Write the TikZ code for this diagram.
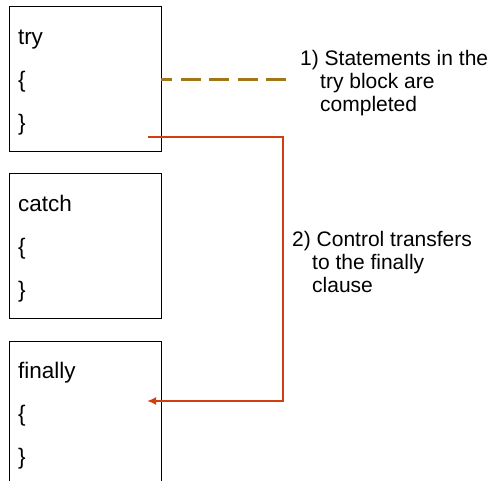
\documentclass[tikz,border=0pt]{standalone}
\usepackage{fontspec}
\setmainfont{Liberation Sans}
\usetikzlibrary{positioning,arrows.meta}
\definecolor{donebrown}{RGB}{160,118,22}
\definecolor{jumpred}{RGB}{208,62,18}

\begin{document}
\begin{tikzpicture}[x=1pt,y=-1pt]
\tikzstyle{block}=[draw=black,line width=1pt,outer sep=0pt,inner sep=0pt,
  minimum width=152pt,minimum height=145pt,anchor=north west,
  text width=134pt,align=left,font=\fontsize{22.5}{43}\selectfont]
\tikzstyle{note}=[anchor=north west,inner sep=0pt,align=left,
  font=\fontsize{21}{23}\selectfont]
\tikzstyle{done}=[draw=donebrown,line width=3pt,dash pattern=on 20pt off 8.5pt,dash phase=9pt]
\tikzstyle{jump}=[draw=jumpred,line width=2.3pt,-{Latex[length=9pt,width=8pt]}]

\useasboundingbox (0,0) rectangle (493,481);
\clip (0,0) rectangle (493,481);

% The three blocks
\node[block] (try) at (9,7) {\rule{0pt}{21pt}try\\\{\\\}};
\node[block,below=22pt of try] (catch) {\rule{0pt}{21pt}catch\\\{\\\}};
\node[block,below=22pt of catch] (finally) {\rule{0pt}{21pt}finally\\\{\\\}};

% Notes on the right
\node[note] (note1) at (300,50) {1) Statements in the\\\hspace*{20pt}try block are\\\hspace*{20pt}completed};
\node[note] (note2) at (292,231) {2) Control transfers\\\hspace*{20pt}to the finally\\\hspace*{20pt}clause};

% Free ends of the connectors
\coordinate (donefrom) at (try.east |- 0,80);
\coordinate (doneto) at (288,80);
\coordinate (tryclose) at (148,137);
\coordinate (finallyopen) at (147,401);

% Connectors
\path[done] (donefrom) -- (doneto);
\path[jump] (tryclose) -- ++(135,0) |- (finallyopen);

\end{tikzpicture}
\end{document}
